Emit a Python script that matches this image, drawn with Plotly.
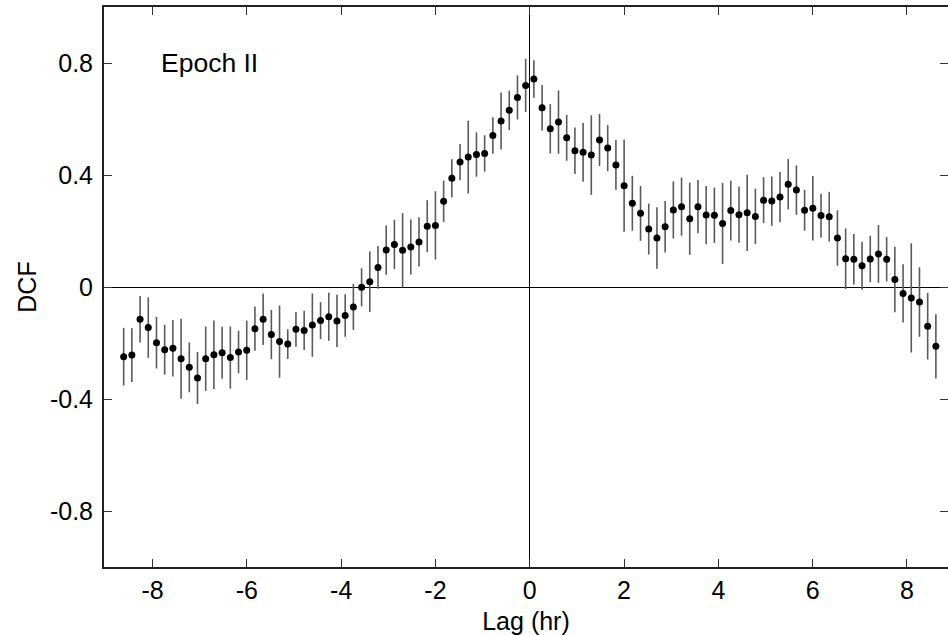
import plotly.graph_objects as go

lag_hr = [
    -8.613, -8.439, -8.265, -8.091, -7.917, -7.743, -7.569, -7.395, -7.221, -7.047,
    -6.873, -6.699, -6.525, -6.351, -6.177, -6.003, -5.829, -5.655, -5.481, -5.307,
    -5.133, -4.959, -4.785, -4.611, -4.437, -4.263, -4.089, -3.915, -3.741, -3.567,
    -3.393, -3.219, -3.045, -2.871, -2.697, -2.523, -2.349, -2.175, -2.001, -1.827,
    -1.653, -1.479, -1.305, -1.131, -0.957, -0.783, -0.609, -0.435, -0.261, -0.087,
    0.087, 0.261, 0.435, 0.609, 0.783, 0.957, 1.131, 1.305, 1.479, 1.653,
    1.827, 2.001, 2.175, 2.349, 2.523, 2.697, 2.871, 3.045, 3.219, 3.393,
    3.567, 3.741, 3.915, 4.089, 4.263, 4.437, 4.611, 4.785, 4.959, 5.133,
    5.307, 5.481, 5.655, 5.829, 6.003, 6.177, 6.351, 6.525, 6.699, 6.873,
    7.047, 7.221, 7.395, 7.569, 7.743, 7.917, 8.091, 8.265, 8.439, 8.613,
]

dcf = [
    -0.249, -0.243, -0.115, -0.145, -0.199, -0.224, -0.219, -0.256, -0.287, -0.325,
    -0.256, -0.242, -0.235, -0.252, -0.232, -0.226, -0.149, -0.115, -0.170, -0.195,
    -0.204, -0.151, -0.155, -0.136, -0.120, -0.106, -0.121, -0.102, -0.071, -0.001,
    0.019, 0.070, 0.132, 0.152, 0.131, 0.143, 0.161, 0.217, 0.220, 0.306,
    0.388, 0.446, 0.464, 0.473, 0.477, 0.541, 0.593, 0.631, 0.677, 0.720,
    0.743, 0.640, 0.565, 0.589, 0.533, 0.487, 0.481, 0.471, 0.525, 0.496,
    0.436, 0.362, 0.299, 0.263, 0.207, 0.175, 0.215, 0.275, 0.287, 0.244,
    0.287, 0.257, 0.256, 0.227, 0.273, 0.258, 0.265, 0.252, 0.310, 0.307,
    0.321, 0.367, 0.346, 0.274, 0.281, 0.255, 0.251, 0.175, 0.101, 0.099,
    0.076, 0.100, 0.118, 0.099, 0.027, -0.023, -0.039, -0.054, -0.140, -0.212,
]

dcf_err = [
    0.103, 0.096, 0.083, 0.108, 0.092, 0.089, 0.101, 0.143, 0.089, 0.093,
    0.115, 0.122, 0.093, 0.111, 0.076, 0.106, 0.079, 0.092, 0.088, 0.129,
    0.053, 0.062, 0.070, 0.113, 0.066, 0.086, 0.093, 0.076, 0.082, 0.068,
    0.108, 0.076, 0.088, 0.088, 0.133, 0.098, 0.088, 0.093, 0.122, 0.074,
    0.068, 0.065, 0.130, 0.079, 0.065, 0.065, 0.102, 0.070, 0.079, 0.095,
    0.067, 0.081, 0.088, 0.113, 0.082, 0.083, 0.105, 0.142, 0.093, 0.082,
    0.089, 0.165, 0.098, 0.098, 0.091, 0.110, 0.092, 0.102, 0.104, 0.129,
    0.095, 0.104, 0.099, 0.145, 0.107, 0.100, 0.136, 0.099, 0.082, 0.088,
    0.090, 0.090, 0.088, 0.073, 0.115, 0.078, 0.089, 0.099, 0.108, 0.090,
    0.086, 0.083, 0.103, 0.079, 0.117, 0.104, 0.195, 0.124, 0.119, 0.115,
]

x_ticks = [-8, -6, -4, -2, 0, 2, 4, 6, 8]
x_tick_labels = ["-8", "-6", "-4", "-2", "0", "2", "4", "6", "8"]
y_ticks = [-0.8, -0.4, 0, 0.4, 0.8]
y_tick_labels = ["-0.8", "-0.4", "0", "0.4", "0.8"]

FONT = "Liberation Sans, Arial, Helvetica, sans-serif"

fig = go.Figure()
fig.add_trace(go.Scatter(
    x=lag_hr, y=dcf, mode="markers",
    marker=dict(color="black", size=7, line=dict(width=0)),
    error_y=dict(type="data", array=dcf_err, visible=True,
                 color="#5a5a5a", thickness=1.6, width=0),
    showlegend=False,
))

fig.add_annotation(x=-7.86, y=0.80, xref="x", yref="y", text="Epoch II",
                   showarrow=False, xanchor="left", yanchor="middle",
                   font=dict(family=FONT, size=26.5, color="black"))

axis_common = dict(
    showline=True, linecolor="#222222", linewidth=2, mirror="ticks",
    ticks="inside", ticklen=8, tickwidth=1.3, tickcolor="#333333",
    showgrid=False, zeroline=True, zerolinecolor="black", zerolinewidth=1.3,
    tickfont=dict(family=FONT, size=25, color="black"),
)

fig.update_xaxes(
    range=[-9.03, 8.87], tickmode="array", tickvals=x_ticks, ticktext=x_tick_labels,
    ticklabelstandoff=0,
    title=dict(text="Lag (hr)", font=dict(family=FONT, size=25, color="black"), standoff=10),
    **axis_common,
)
fig.update_yaxes(
    range=[-1.0, 1.0], tickmode="array", tickvals=y_ticks, ticktext=y_tick_labels,
    ticklabelstandoff=4,
    title=dict(text="DCF", font=dict(family=FONT, size=25, color="black"), standoff=6),
    **axis_common,
)

fig.update_layout(
    width=948, height=635,
    margin=dict(l=104, r=0, t=7, b=68, autoexpand=False),
    plot_bgcolor="white", paper_bgcolor="white",
)

fig.write_html("out.html")
